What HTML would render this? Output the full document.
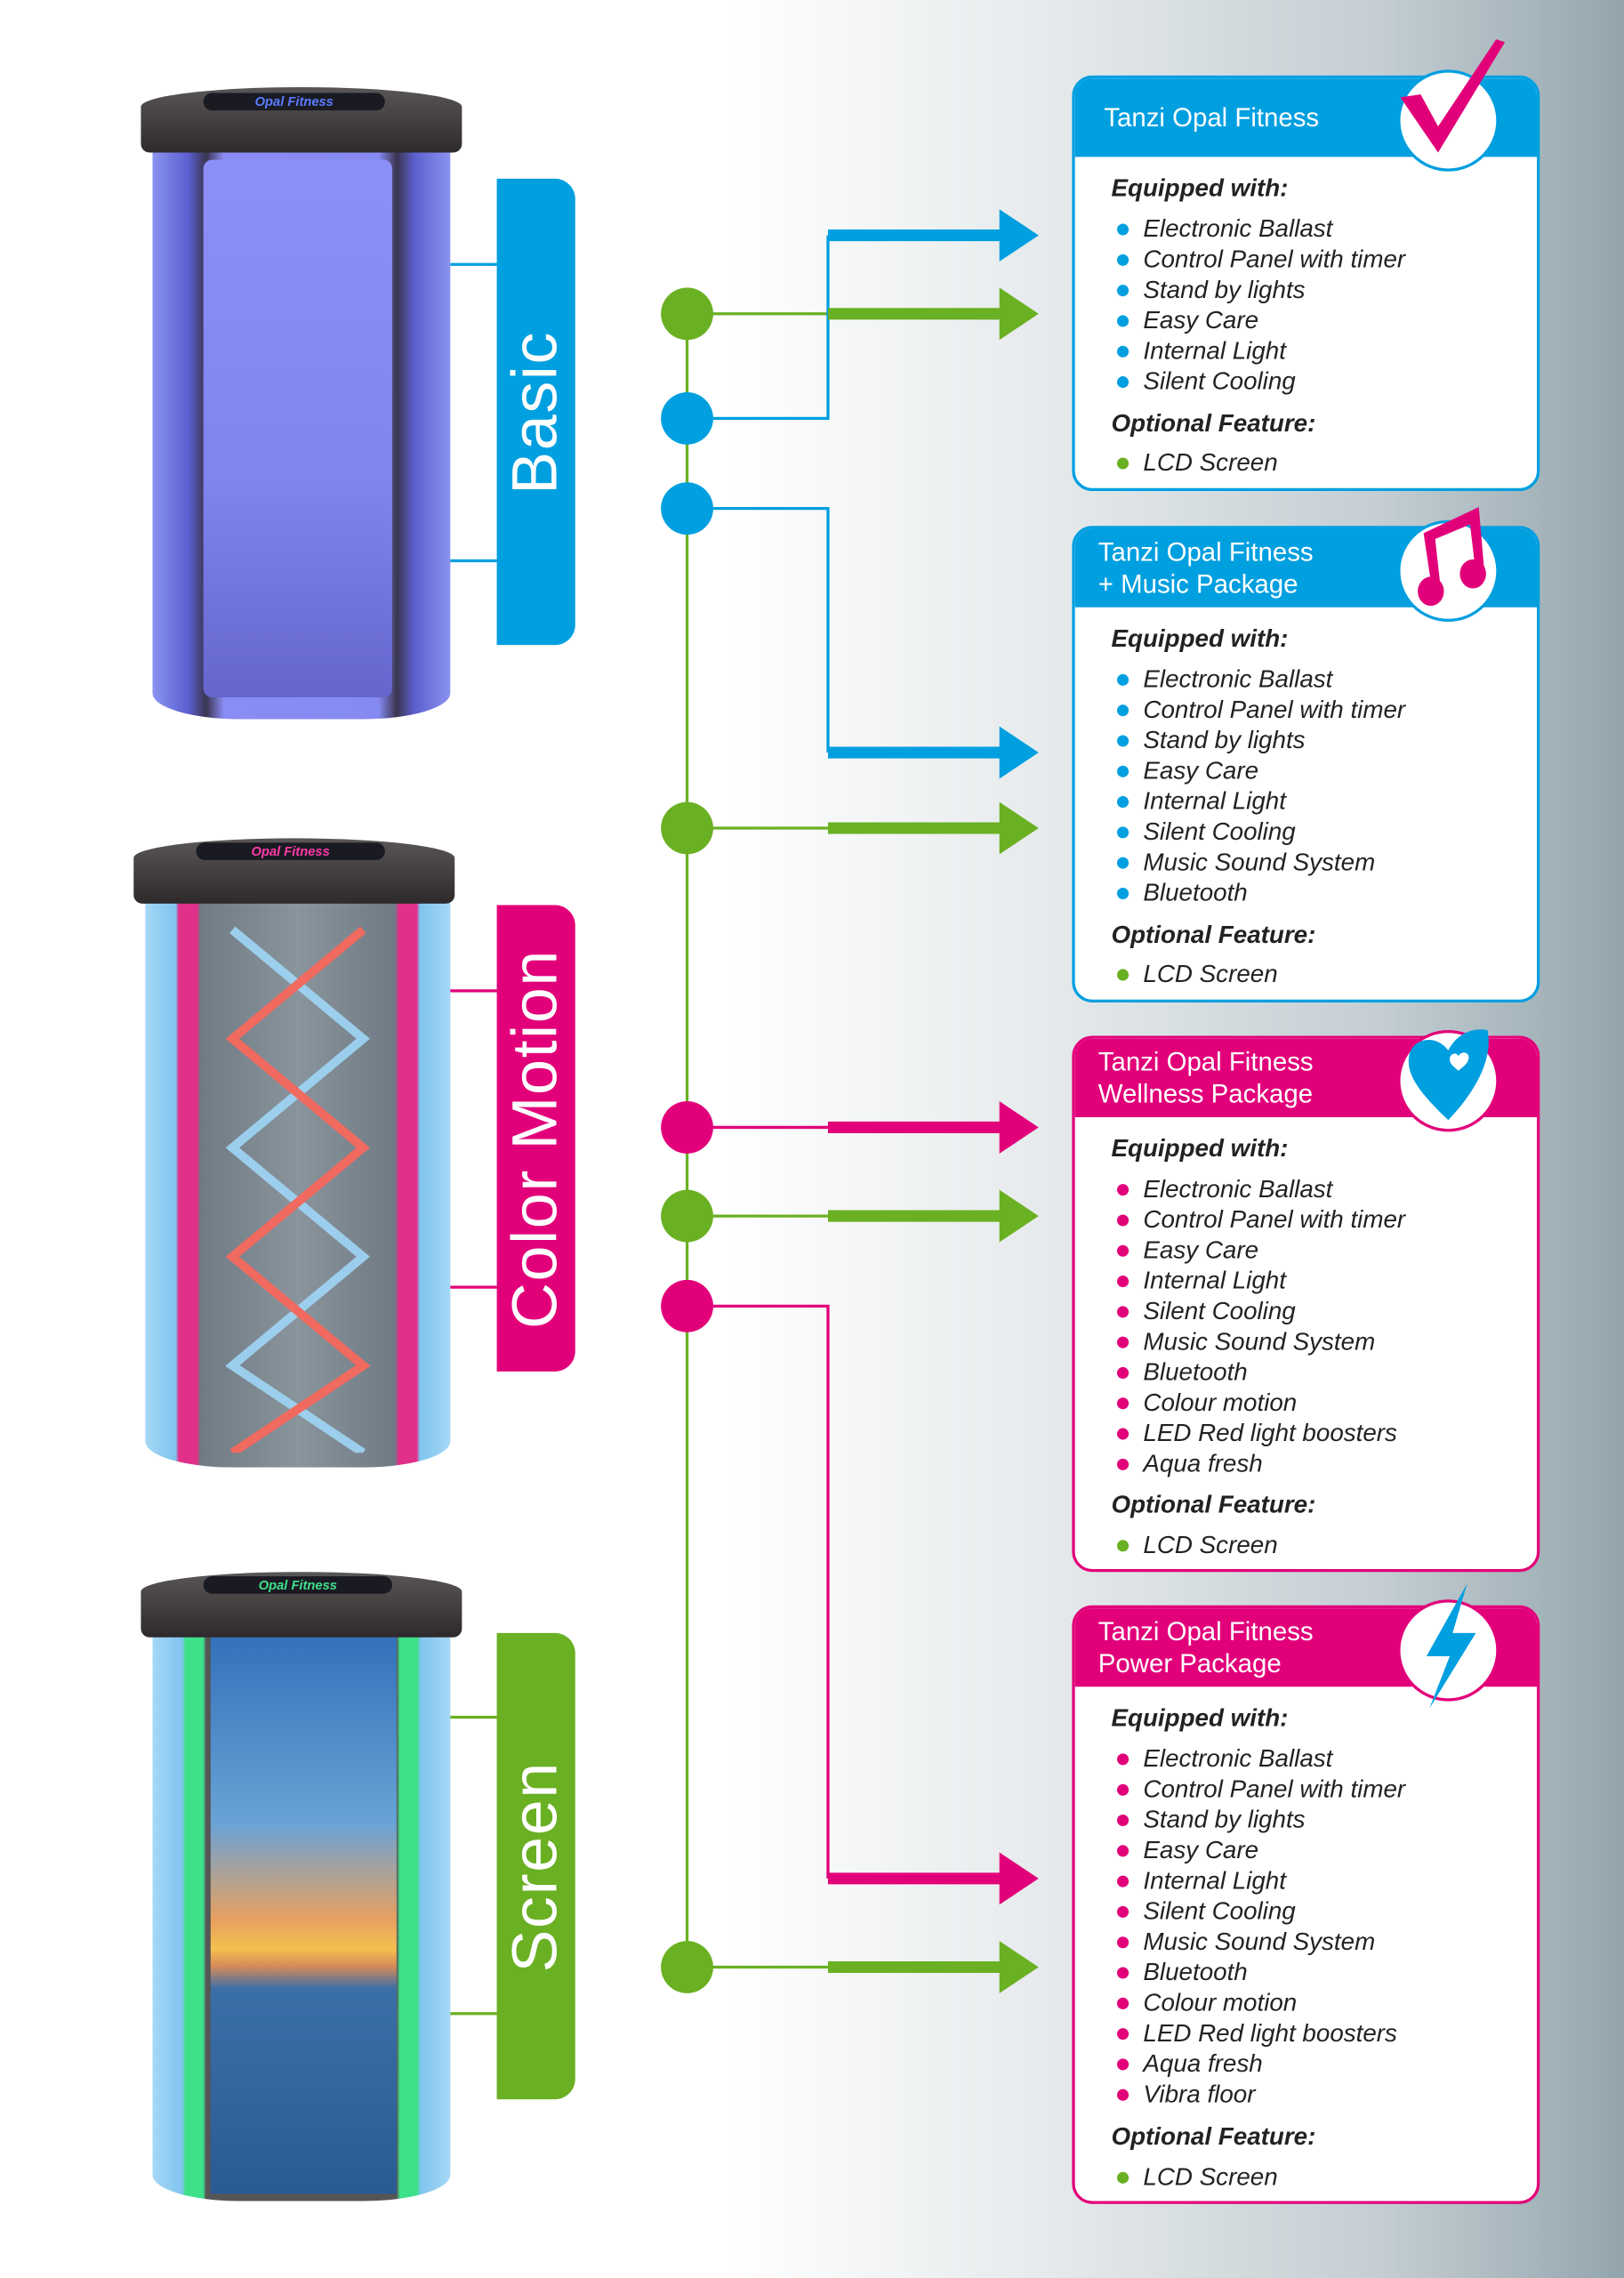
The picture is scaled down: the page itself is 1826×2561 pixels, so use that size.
<!DOCTYPE html>
<html><head><meta charset="utf-8">
<style>
html,body{margin:0;padding:0}
body{width:1826px;height:2560px;overflow:hidden;position:relative;background:#fff}
#w{position:absolute;left:0;top:0;width:1118px;height:1568px;transform:scale(1.6333);transform-origin:0 0;
background:linear-gradient(90deg,#fff 0px,#fff 500px,#e6eaec 720px,#c4ced3 950px,#9aaab2 1100px,#93a3ab 1118px);
font-family:"Liberation Sans",sans-serif}
.a{position:absolute}
.tab{position:absolute;left:342px;width:54px;height:321px;border-radius:0 14px 14px 0}
.tab span{position:absolute;left:50%;top:50%;transform:translate(-50%,-50%) rotate(-90deg);color:#fff;font-size:44px;white-space:nowrap;letter-spacing:1px}
.hl{position:absolute;height:1.5px}
.node{position:absolute;width:36px;height:36px;border-radius:50%;left:455px}
.box{position:absolute;left:738px;width:318px;background:#fff;border:2px solid;border-radius:14px;overflow:hidden}
.hd{height:54px;color:#fff;font-size:18px;line-height:22px;padding:0 0 0 16px;display:flex;align-items:center}
.box .t{position:absolute;left:25px;font-size:17px;font-style:italic;color:#222;white-space:nowrap}
.box .b{font-weight:bold}
.box .d{position:absolute;left:29px;width:8px;height:8px;border-radius:50%}
.ic{position:absolute;width:66px;height:66px;border-radius:50%;background:#fff;border:2px solid}
</style></head><body><div id="w">

<!-- booth 1 -->
<div class="a" style="left:105px;top:95px;width:205px;height:400px;border-radius:0 0 60px 60px/0 0 18px 18px;background:linear-gradient(90deg,#8a93f0,#5c5fd0 12%,#3a3550 18%,#8a8cf5 24%,#8589f2 76%,#3a3550 82%,#5c5fd0 88%,#8a93f0)"></div>
<div class="a" style="left:140px;top:110px;width:130px;height:370px;background:linear-gradient(180deg,#8c8ff7,#7f84ee 60%,#6466cc);border-radius:6px"></div>
<div class="a" style="left:97px;top:60px;width:221px;height:45px;background:linear-gradient(180deg,#5a5658,#2e2a2c);border-radius:50% 50% 6px 6px/30% 30% 6px 6px"></div>
<div class="a" style="left:140px;top:64px;width:125px;height:12px;border-radius:6px;background:#1a1a22;color:#5a7cff;font-size:9px;font-style:italic;font-weight:bold;text-align:center;line-height:12px">Opal Fitness</div>

<!-- booth 2 -->
<div class="a" style="left:100px;top:610px;width:210px;height:400px;border-radius:0 0 60px 60px/0 0 18px 18px;background:linear-gradient(90deg,#a6d8f5,#7fc4ee 10%,#e0308a 11%,#e0308a 17%,#707a84 18%,#8a949c 50%,#707a84 82%,#e0308a 83%,#e0308a 89%,#7fc4ee 90%,#a6d8f5)"></div>
<svg class="a" style="left:140px;top:620px" width="130" height="380" viewBox="0 0 130 380">
<polyline points="20,20 110,95 20,170 110,245 20,320 110,380" fill="none" stroke="#9fd6f6" stroke-width="6" opacity=".9"/>
<polyline points="110,20 20,95 110,170 20,245 110,320 20,380" fill="none" stroke="#f06a60" stroke-width="6"/>
</svg>
<div class="a" style="left:92px;top:577px;width:221px;height:45px;background:linear-gradient(180deg,#5a5658,#2e2a2c);border-radius:50% 50% 6px 6px/30% 30% 6px 6px"></div>
<div class="a" style="left:135px;top:580px;width:130px;height:12px;border-radius:6px;background:#1a1a22;color:#ff3aa8;font-size:9px;font-style:italic;font-weight:bold;text-align:center;line-height:12px">Opal Fitness</div>

<!-- booth 3 -->
<div class="a" style="left:105px;top:1115px;width:205px;height:400px;border-radius:0 0 60px 60px/0 0 18px 18px;background:linear-gradient(90deg,#a6d8f5,#7fc4ee 10%,#3fe08a 11%,#3fe08a 17%,#555 18%,#555 82%,#3fe08a 83%,#3fe08a 89%,#7fc4ee 90%,#a6d8f5)"></div>
<div class="a" style="left:145px;top:1118px;width:128px;height:392px;background:linear-gradient(180deg,#2f6eb8,#6aa3d6 35%,#e8a060 52%,#f4c050 57%,#d88b58 60%,#3b6fa8 64%,#2a5a94)"></div>
<div class="a" style="left:97px;top:1082px;width:221px;height:45px;background:linear-gradient(180deg,#5a5658,#2e2a2c);border-radius:50% 50% 6px 6px/30% 30% 6px 6px"></div>
<div class="a" style="left:140px;top:1085px;width:130px;height:12px;border-radius:6px;background:#1a1a22;color:#3fe08a;font-size:9px;font-style:italic;font-weight:bold;text-align:center;line-height:12px">Opal Fitness</div>

<!-- tabs -->
<div class="hl" style="left:310px;top:181px;width:32px;background:#009fe0"></div>
<div class="hl" style="left:310px;top:385px;width:32px;background:#009fe0"></div>
<div class="tab" style="top:123px;background:#009fe0"><span>Basic</span></div>
<div class="hl" style="left:310px;top:681px;width:32px;background:#e2007a"></div>
<div class="hl" style="left:310px;top:885px;width:32px;background:#e2007a"></div>
<div class="tab" style="top:623px;background:#e2007a"><span>Color Motion</span></div>
<div class="hl" style="left:310px;top:1181px;width:32px;background:#6ab023"></div>
<div class="hl" style="left:310px;top:1385px;width:32px;background:#6ab023"></div>
<div class="tab" style="top:1124px;background:#6ab023"><span>Screen</span></div>

<!-- connectors -->
<svg class="a" style="left:0;top:0" width="1118" height="1568">
<g fill="none" stroke-width="2">
<line x1="473" y1="216" x2="473" y2="1354" stroke="#6ab023"/>
<polyline points="473,216 570,216" stroke="#6ab023"/>
<polyline points="473,288 570,288 570,162" stroke="#009fe0"/>
<polyline points="473,350 570,350 570,518" stroke="#009fe0"/>
<polyline points="473,570 570,570" stroke="#6ab023"/>
<polyline points="473,776 570,776" stroke="#e2007a"/>
<polyline points="473,837 570,837" stroke="#6ab023"/>
<polyline points="473,899 570,899 570,1293" stroke="#e2007a"/>
<polyline points="473,1354 570,1354" stroke="#6ab023"/>
</g>
<g>
<path d="M570,158h118v-14l27,18l-27,18v-14h-118z" fill="#009fe0"/>
<path d="M570,212h118v-14l27,18l-27,18v-14h-118z" fill="#6ab023"/>
<path d="M570,514h118v-14l27,18l-27,18v-14h-118z" fill="#009fe0"/>
<path d="M570,566h118v-14l27,18l-27,18v-14h-118z" fill="#6ab023"/>
<path d="M570,772h118v-14l27,18l-27,18v-14h-118z" fill="#e2007a"/>
<path d="M570,833h118v-14l27,18l-27,18v-14h-118z" fill="#6ab023"/>
<path d="M570,1289h118v-14l27,18l-27,18v-14h-118z" fill="#e2007a"/>
<path d="M570,1350h118v-14l27,18l-27,18v-14h-118z" fill="#6ab023"/>
</g>
<circle cx="473" cy="216" r="18" fill="#6ab023"/>
<circle cx="473" cy="288" r="18" fill="#009fe0"/>
<circle cx="473" cy="350" r="18" fill="#009fe0"/>
<circle cx="473" cy="570" r="18" fill="#6ab023"/>
<circle cx="473" cy="776" r="18" fill="#e2007a"/>
<circle cx="473" cy="837" r="18" fill="#6ab023"/>
<circle cx="473" cy="899" r="18" fill="#e2007a"/>
<circle cx="473" cy="1354" r="18" fill="#6ab023"/>
</svg>

<!-- box 1 -->
<div class="box" style="top:52px;height:282px;border-color:#009fe0">
<div class="hd" style="background:#009fe0;padding-left:20px">Tanzi Opal Fitness</div>
<div class="t b" style="top:66px">Equipped with:</div>
<div class="d" style="top:100px;background:#009fe0"></div><div class="t" style="top:94px;left:47px">Electronic Ballast</div>
<div class="d" style="top:121px;background:#009fe0"></div><div class="t" style="top:115px;left:47px">Control Panel with timer</div>
<div class="d" style="top:142px;background:#009fe0"></div><div class="t" style="top:136px;left:47px">Stand by lights</div>
<div class="d" style="top:163px;background:#009fe0"></div><div class="t" style="top:157px;left:47px">Easy Care</div>
<div class="d" style="top:184px;background:#009fe0"></div><div class="t" style="top:178px;left:47px">Internal Light</div>
<div class="d" style="top:205px;background:#009fe0"></div><div class="t" style="top:199px;left:47px">Silent Cooling</div>
<div class="t b" style="top:228px">Optional Feature:</div>
<div class="d" style="top:261px;background:#6ab023"></div><div class="t" style="top:255px;left:47px">LCD Screen</div>
</div>
<div class="ic" style="left:962px;top:48px;border-color:#009fe0"></div>
<svg class="a" style="left:960px;top:25px" width="80" height="90"><path d="M4,42 L30,80 L76,4 L70,2 L30,62 L18,40z" fill="#e2007a"/></svg>

<!-- box 2 -->
<div class="box" style="top:362px;height:324px;border-color:#009fe0">
<div class="hd" style="background:#009fe0">Tanzi Opal Fitness<br>+ Music Package</div>
<div class="t b" style="top:66px">Equipped with:</div>
<div class="d" style="top:100px;background:#009fe0"></div><div class="t" style="top:94px;left:47px">Electronic Ballast</div>
<div class="d" style="top:121px;background:#009fe0"></div><div class="t" style="top:115px;left:47px">Control Panel with timer</div>
<div class="d" style="top:142px;background:#009fe0"></div><div class="t" style="top:136px;left:47px">Stand by lights</div>
<div class="d" style="top:163px;background:#009fe0"></div><div class="t" style="top:157px;left:47px">Easy Care</div>
<div class="d" style="top:184px;background:#009fe0"></div><div class="t" style="top:178px;left:47px">Internal Light</div>
<div class="d" style="top:205px;background:#009fe0"></div><div class="t" style="top:199px;left:47px">Silent Cooling</div>
<div class="d" style="top:226px;background:#009fe0"></div><div class="t" style="top:220px;left:47px">Music Sound System</div>
<div class="d" style="top:247px;background:#009fe0"></div><div class="t" style="top:241px;left:47px">Bluetooth</div>
<div class="t b" style="top:270px">Optional Feature:</div>
<div class="d" style="top:303px;background:#6ab023"></div><div class="t" style="top:297px;left:47px">LCD Screen</div>
</div>
<div class="ic" style="left:962px;top:358px;border-color:#009fe0"></div>
<svg class="a" style="left:970px;top:345px" width="60" height="75"><path d="M10,22 L48,4 L52,50 L46,50 L42,16 L18,26 L22,62 L16,62z" fill="#e2007a"/><ellipse cx="15" cy="62" rx="9" ry="10" fill="#e2007a"/><ellipse cx="44" cy="50" rx="9" ry="10" fill="#e2007a"/></svg>

<!-- box 3 -->
<div class="box" style="top:713px;height:365px;border-color:#e2007a">
<div class="hd" style="background:#e2007a">Tanzi Opal Fitness<br>Wellness Package</div>
<div class="t b" style="top:66px">Equipped with:</div>
<div class="d" style="top:100px;background:#e2007a"></div><div class="t" style="top:94px;left:47px">Electronic Ballast</div>
<div class="d" style="top:121px;background:#e2007a"></div><div class="t" style="top:115px;left:47px">Control Panel with timer</div>
<div class="d" style="top:142px;background:#e2007a"></div><div class="t" style="top:136px;left:47px">Easy Care</div>
<div class="d" style="top:163px;background:#e2007a"></div><div class="t" style="top:157px;left:47px">Internal Light</div>
<div class="d" style="top:184px;background:#e2007a"></div><div class="t" style="top:178px;left:47px">Silent Cooling</div>
<div class="d" style="top:205px;background:#e2007a"></div><div class="t" style="top:199px;left:47px">Music Sound System</div>
<div class="d" style="top:226px;background:#e2007a"></div><div class="t" style="top:220px;left:47px">Bluetooth</div>
<div class="d" style="top:247px;background:#e2007a"></div><div class="t" style="top:241px;left:47px">Colour motion</div>
<div class="d" style="top:268px;background:#e2007a"></div><div class="t" style="top:262px;left:47px">LED Red light boosters</div>
<div class="d" style="top:289px;background:#e2007a"></div><div class="t" style="top:283px;left:47px">Aqua fresh</div>
<div class="t b" style="top:311px">Optional Feature:</div>
<div class="d" style="top:345px;background:#6ab023"></div><div class="t" style="top:339px;left:47px">LCD Screen</div>
</div>
<div class="ic" style="left:962px;top:709px;border-color:#e2007a"></div>
<svg class="a" style="left:966px;top:705px" width="62" height="70"><path d="M31,66 C10,46 2,34 4,22 C6,10 22,6 31,18 C36,8 46,2 58,4 C62,24 50,46 31,66z" fill="#009fe0"/><path d="M38,22 c2,-4 8,-3 7,2 c-1,4 -5,6 -7,8 c-2,-2 -6,-4 -6,-8 c0,-4 5,-5 6,-2z" fill="#fff"/></svg>

<!-- box 4 -->
<div class="box" style="top:1105px;height:408px;border-color:#e2007a">
<div class="hd" style="background:#e2007a">Tanzi Opal Fitness<br>Power Package</div>
<div class="t b" style="top:66px">Equipped with:</div>
<div class="d" style="top:100px;background:#e2007a"></div><div class="t" style="top:94px;left:47px">Electronic Ballast</div>
<div class="d" style="top:121px;background:#e2007a"></div><div class="t" style="top:115px;left:47px">Control Panel with timer</div>
<div class="d" style="top:142px;background:#e2007a"></div><div class="t" style="top:136px;left:47px">Stand by lights</div>
<div class="d" style="top:163px;background:#e2007a"></div><div class="t" style="top:157px;left:47px">Easy Care</div>
<div class="d" style="top:184px;background:#e2007a"></div><div class="t" style="top:178px;left:47px">Internal Light</div>
<div class="d" style="top:205px;background:#e2007a"></div><div class="t" style="top:199px;left:47px">Silent Cooling</div>
<div class="d" style="top:226px;background:#e2007a"></div><div class="t" style="top:220px;left:47px">Music Sound System</div>
<div class="d" style="top:247px;background:#e2007a"></div><div class="t" style="top:241px;left:47px">Bluetooth</div>
<div class="d" style="top:268px;background:#e2007a"></div><div class="t" style="top:262px;left:47px">Colour motion</div>
<div class="d" style="top:289px;background:#e2007a"></div><div class="t" style="top:283px;left:47px">LED Red light boosters</div>
<div class="d" style="top:310px;background:#e2007a"></div><div class="t" style="top:304px;left:47px">Aqua fresh</div>
<div class="d" style="top:331px;background:#e2007a"></div><div class="t" style="top:325px;left:47px">Vibra floor</div>
<div class="t b" style="top:354px">Optional Feature:</div>
<div class="d" style="top:388px;background:#6ab023"></div><div class="t" style="top:382px;left:47px">LCD Screen</div>
</div>
<div class="ic" style="left:962px;top:1101px;border-color:#e2007a"></div>
<svg class="a" style="left:972px;top:1088px" width="50" height="90"><path d="M38,2 L10,52 L26,52 L12,88 L44,36 L28,36z" fill="#009fe0"/></svg>

</div></body></html>
